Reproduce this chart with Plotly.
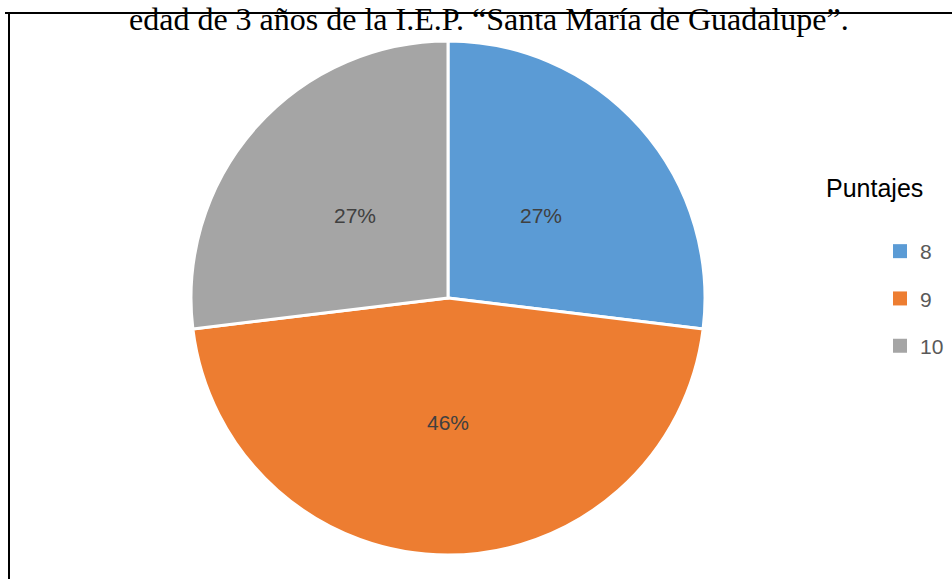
import math
import plotly.graph_objects as go

categories = ["8", "9", "10"]
counts = [7, 12, 7]
colors = ["#5B9BD5", "#ED7D31", "#A5A5A5"]
title_text = "edad de 3 años de la I.E.P. “Santa María de Guadalupe”."
legend_title = "Puntajes"

W, H = 952, 579
CX, CY, R = 448, 298, 257  # pie center / radius in pixels (layout)

fig = go.Figure()
fig.add_trace(go.Pie(
    labels=categories, values=counts,
    marker=dict(colors=colors, line=dict(color="white", width=3)),
    sort=False, direction="clockwise", rotation=0,
    textinfo="none",
    domain=dict(x=[(CX - R) / W, (CX + R) / W], y=[(H - CY - R) / H, (H - CY + R) / H]),
    showlegend=False, hoverinfo="label+percent",
))

for cat, col in zip(categories, colors):
    fig.add_trace(go.Scatter(
        x=[None], y=[None], mode="markers", name=cat, legendgroup=cat,
        marker=dict(symbol="square", size=14, color=col),
    ))

# percentage labels placed at the mid-angle of each slice, computed from data
annotations = []
total = sum(counts)
cum = 0
for v in counts:
    mid = (cum + v / 2) / total * 2 * math.pi
    cum += v
    px = CX + 0.485 * R * math.sin(mid)
    py = CY - 0.485 * R * math.cos(mid)
    annotations.append(dict(
        text=f"{round(100 * v / total)}%", x=px / W, y=1 - py / H,
        xref="paper", yref="paper", showarrow=False,
        xanchor="center", yanchor="middle",
        font=dict(family="Liberation Sans", size=21, color="#404040")))

annotations += [
    dict(text=title_text, x=489 / W, y=1 - 19 / H, xref="paper", yref="paper",
         xanchor="center", yanchor="middle", showarrow=False,
         font=dict(family="Liberation Serif", size=32, color="black")),
    dict(text=legend_title, x=874 / W, y=1 - 188 / H, xref="paper", yref="paper",
         xanchor="center", yanchor="middle", showarrow=False,
         font=dict(family="Liberation Sans", size=25, color="black")),
]

fig.update_layout(
    width=W, height=H, margin=dict(l=0, r=0, t=0, b=0),
    paper_bgcolor="white", plot_bgcolor="white",
    xaxis=dict(visible=False), yaxis=dict(visible=False),
    legend=dict(
        x=880 / W, xanchor="left", y=1 - 231 / H, yanchor="top",
        font=dict(family="Liberation Sans", size=21, color="#595959"),
        tracegroupgap=17, traceorder="grouped", bgcolor="rgba(0,0,0,0)",
    ),
    annotations=annotations,
    shapes=[
        dict(type="line", xref="paper", yref="paper", x0=5 / W, x1=1, y0=1 - 13 / H, y1=1 - 13 / H,
             line=dict(color="black", width=2)),
        dict(type="line", xref="paper", yref="paper", x0=9 / W, x1=9 / W, y0=0, y1=1 - 13 / H,
             line=dict(color="black", width=2)),
    ],
)

fig.write_html("out.html")
